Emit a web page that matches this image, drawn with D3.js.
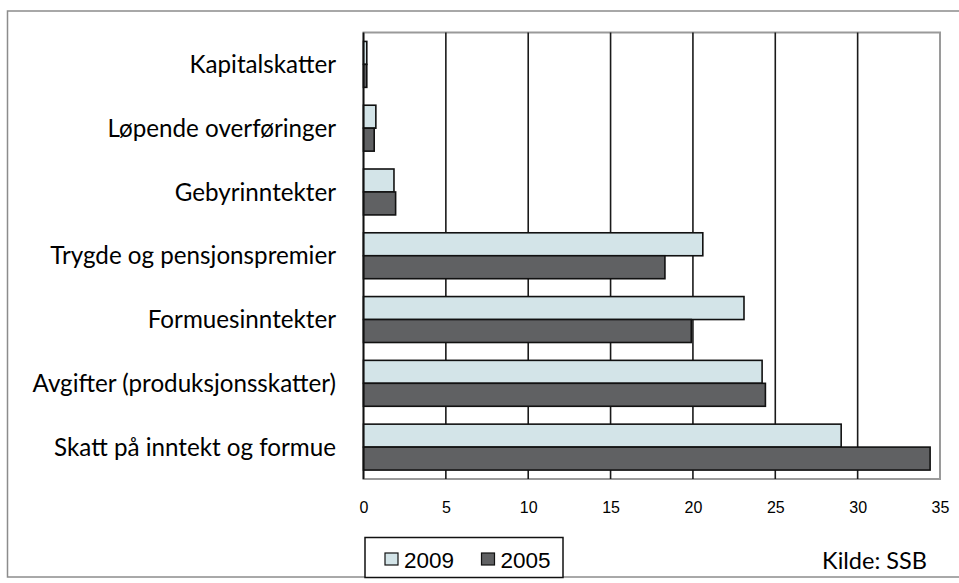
<!DOCTYPE html>
<html>
<head>
<meta charset="utf-8">
<script src="https://cdnjs.cloudflare.com/ajax/libs/d3/7.8.5/d3.min.js"></script>
<style>
  html, body { margin: 0; padding: 0; background: #fff; }
  svg { display: block; }
</style>
</head>
<body>
<svg id="chart" width="959" height="583"></svg>
<script>
const categories = [
  "Kapitalskatter",
  "Løpende overføringer",
  "Gebyrinntekter",
  "Trygde og pensjonspremier",
  "Formuesinntekter",
  "Avgifter (produksjonsskatter)",
  "Skatt på inntekt og formue"
];
const seriesNames = ["2009", "2005"];
const values2009 = [0.2, 0.75, 1.85, 20.6, 23.1, 24.2, 29.0];
const values2005 = [0.2, 0.65, 1.95, 18.3, 19.9, 24.4, 34.4];
const xTicks = [0, 5, 10, 15, 20, 25, 30, 35];
const sourceText = "Kilde: SSB";

const colors = { "2009": "#d3e4e8", "2005": "#606163" };
const labelFont = "Lato, 'Open Sans', sans-serif";
const tickFont = "'Liberation Sans', Arial, sans-serif";

const svg = d3.select("#chart");
const plot = { left: 363.5, right: 940, top: 32.5, bottom: 479 };

// outer frame
svg.append("rect")
  .attr("x", 7.5).attr("y", 11)
  .attr("width", 960).attr("height", 566)
  .attr("fill", "#fff").attr("stroke", "#8c8c8c").attr("stroke-width", 1.5);

const x = d3.scaleLinear().domain([0, 35]).range([plot.left, plot.right]);
const y = d3.scaleBand().domain(categories).range([plot.top, plot.bottom])
  .paddingInner(0.28).paddingOuter(0.14);
const ySub = d3.scaleBand().domain(seriesNames).range([0, y.bandwidth()]);

// plot area border
svg.append("rect")
  .attr("x", plot.left).attr("y", plot.top)
  .attr("width", plot.right - plot.left).attr("height", plot.bottom - plot.top)
  .attr("fill", "#fff").attr("stroke", "#9a9a9a").attr("stroke-width", 2);

// gridlines
svg.append("g").selectAll("line")
  .data(xTicks.filter(t => t > 0 && t < 35))
  .join("line")
  .attr("x1", d => x(d)).attr("x2", d => x(d))
  .attr("y1", plot.top).attr("y2", plot.bottom)
  .attr("stroke", "#1a1a1a").attr("stroke-width", 1.6);

// bars
const rows = categories.map((c, i) => ({ cat: c, vals: [
  { s: "2009", v: values2009[i] },
  { s: "2005", v: values2005[i] }
]}));

const gRows = svg.append("g").selectAll("g")
  .data(rows).join("g")
  .attr("transform", d => `translate(0,${y(d.cat)})`);

gRows.selectAll("rect")
  .data(d => d.vals).join("rect")
  .attr("x", x(0))
  .attr("y", d => ySub(d.s))
  .attr("width", d => x(d.v) - x(0))
  .attr("height", ySub.bandwidth())
  .attr("fill", d => colors[d.s])
  .attr("stroke", "#111").attr("stroke-width", 1.6);

// left axis line
svg.append("line")
  .attr("x1", plot.left).attr("x2", plot.left)
  .attr("y1", plot.top).attr("y2", plot.bottom)
  .attr("stroke", "#111").attr("stroke-width", 1.8);

// x axis tick labels
const xAxis = d3.axisBottom(x).tickValues(xTicks).tickSize(0).tickPadding(0);
const gx = svg.append("g").attr("transform", `translate(0,${plot.bottom})`).call(xAxis);
gx.select(".domain").remove();
gx.selectAll("text")
  .attr("y", 33.5).attr("dy", null)
  .attr("font-family", tickFont).attr("font-size", 16).attr("fill", "#000");

// category labels
const yAxis = d3.axisLeft(y).tickSize(0).tickPadding(0);
const gy = svg.append("g").attr("transform", `translate(336,0)`).call(yAxis);
gy.select(".domain").remove();
gy.selectAll("text")
  .attr("x", 0).attr("dy", "0.36em")
  .attr("text-anchor", "end")
  .attr("font-family", labelFont).attr("font-size", 24.2).attr("fill", "#000");

// legend
const lg = svg.append("g");
lg.append("rect")
  .attr("x", 365).attr("y", 537.5).attr("width", 198).attr("height", 40)
  .attr("fill", "#fff").attr("stroke", "#111").attr("stroke-width", 1.5);
const legendX = [385, 481.5];
seriesNames.forEach((s, i) => {
  lg.append("rect")
    .attr("x", legendX[i]).attr("y", 553).attr("width", 13).attr("height", 12)
    .attr("fill", colors[s]).attr("stroke", "#111").attr("stroke-width", 1.2);
  lg.append("text")
    .attr("x", legendX[i] + 19).attr("y", 567.5)
    .attr("font-family", tickFont).attr("font-size", 22.5)
    .attr("fill", "#000").text(s);
});

// source
svg.append("text")
  .attr("x", 927).attr("y", 568.5).attr("text-anchor", "end")
  .attr("font-family", labelFont).attr("font-size", 23.5).attr("fill", "#000")
  .text(sourceText);
</script>
</body>
</html>
